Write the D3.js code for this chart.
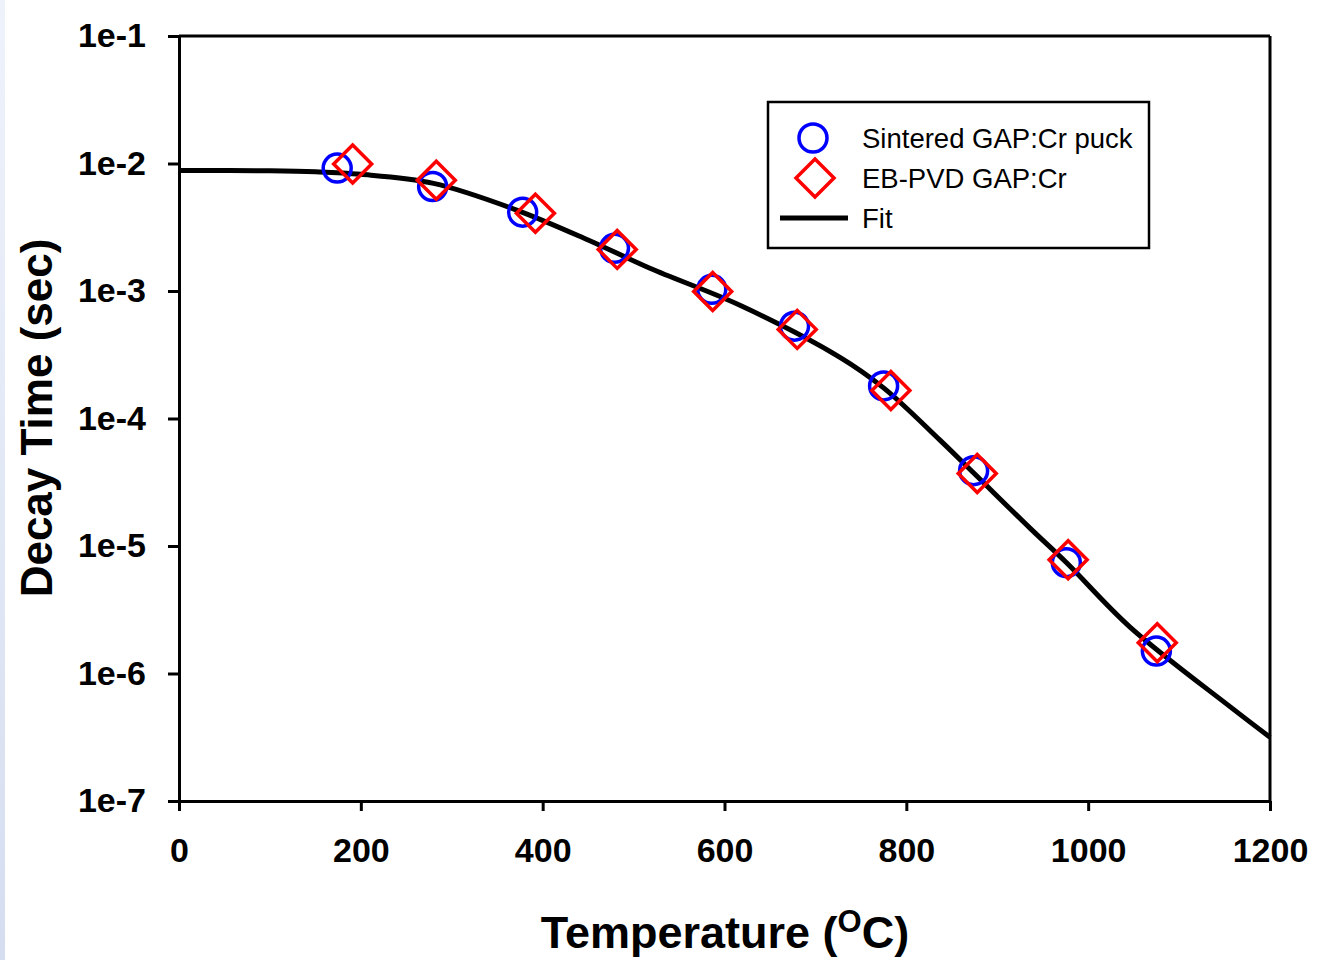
<!DOCTYPE html>
<html>
<head>
<meta charset="utf-8">
<title>Decay Time vs Temperature</title>
<script src="https://cdn.jsdelivr.net/npm/d3@7"></script>
<style>
body { margin: 0; background: #fff; }
svg { display: block; font-family: "Liberation Sans", Arial, sans-serif; }
.axis path, .axis line { stroke: #000; stroke-width: 3; }
.axis text { font-size: 34px; font-weight: bold; fill: #000; }
</style>
</head>
<body>
<script>
// data
var sinteredT = [174, 279, 378, 479, 586, 677, 775, 874, 976, 1075];
var sinteredTau = [9.2e-3, 6.6e-3, 4.15e-3, 2.16e-3, 1.03e-3, 5.3e-4, 1.8e-4, 3.9e-5, 7.4e-6, 1.5e-6];

var ebpvdT = [191, 283, 392, 482, 587, 680, 783, 878, 978, 1076];
var ebpvdTau = [9.9e-3, 7.4e-3, 4.07e-3, 2.12e-3, 9.9e-4, 5.0e-4, 1.66e-4, 3.7e-5, 7.8e-6, 1.74e-6];

var fitT = [0, 100, 150, 200, 280, 372, 450, 518, 617, 727, 775, 837, 873, 936, 976, 1046, 1156, 1200];
var fitLogTau = [-2.054, -2.057, -2.065, -2.085, -2.156, -2.367, -2.6, -2.822, -3.112, -3.52, -3.76, -4.17, -4.42, -4.86, -5.13, -5.636, -6.26, -6.5];

var xTicks = [0, 200, 400, 600, 800, 1000, 1200];
var yTicks = [1e-1, 1e-2, 1e-3, 1e-4, 1e-5, 1e-6, 1e-7];
var yTickLabels = ["1e-1", "1e-2", "1e-3", "1e-4", "1e-5", "1e-6", "1e-7"];

var W = 1340, H = 960;
var margin = {left: 179, right: 70, top: 36, bottom: 159};
var width = W - margin.left - margin.right,
    height = H - margin.top - margin.bottom;

var svg = d3.select("body").append("svg")
    .attr("width", W)
    .attr("height", H);

// light blue strip on the left edge
var grad = svg.append("defs").append("linearGradient")
    .attr("id", "strip").attr("x1", 0).attr("y1", 0).attr("x2", 0).attr("y2", 1);
grad.append("stop").attr("offset", "0%").attr("stop-color", "#eef2fb");
grad.append("stop").attr("offset", "100%").attr("stop-color", "#d5def0");
svg.append("rect").attr("x", 0).attr("y", 0).attr("width", 5).attr("height", H)
    .attr("fill", "url(#strip)");

var g = svg.append("g")
    .attr("transform", "translate(" + margin.left + "," + margin.top + ")");

var x = d3.scaleLinear().domain([0, 1200]).range([0, width]);
var y = d3.scaleLog().domain([1e-7, 1e-1]).range([height, 0]);

// frame
g.append("line").attr("x1", 0).attr("x2", width).attr("y1", 0).attr("y2", 0)
    .attr("stroke", "#000").attr("stroke-width", 3);
g.append("line").attr("x1", width).attr("x2", width).attr("y1", 0).attr("y2", height)
    .attr("stroke", "#000").attr("stroke-width", 3);

g.append("g")
    .attr("class", "axis")
    .attr("transform", "translate(0," + height + ")")
    .call(d3.axisBottom(x).tickValues(xTicks).tickSize(10).tickPadding(27).tickSizeOuter(0)
        .tickFormat(d3.format("d")))
    .selectAll("text").attr("dy", "0.71em");

g.append("g")
    .attr("class", "axis")
    .call(d3.axisLeft(y).tickValues(yTicks).tickSize(11).tickPadding(22).tickSizeOuter(0)
        .tickFormat(function(d, i) { return yTickLabels[i]; }));

// fit curve
var fit = fitT.map(function(t, i) { return {t: t, v: Math.pow(10, fitLogTau[i])}; });
g.append("path")
    .datum(fit)
    .attr("fill", "none")
    .attr("stroke", "#000")
    .attr("stroke-width", 5)
    .attr("d", d3.line()
        .curve(d3.curveCatmullRom)
        .x(function(d) { return x(d.t); })
        .y(function(d) { return y(d.v); }));

// sintered puck: blue circles
g.selectAll(".sint")
    .data(sinteredT.map(function(t, i) { return {t: t, v: sinteredTau[i]}; }))
  .enter().append("circle")
    .attr("class", "sint")
    .attr("cx", function(d) { return x(d.t); })
    .attr("cy", function(d) { return y(d.v); })
    .attr("r", 14)
    .attr("fill", "none")
    .attr("stroke", "#0000ff")
    .attr("stroke-width", 3.5);

// EB-PVD: red diamonds
var diamond = "M0,-19L19,0L0,19L-19,0Z";
g.selectAll(".eb")
    .data(ebpvdT.map(function(t, i) { return {t: t, v: ebpvdTau[i]}; }))
  .enter().append("path")
    .attr("class", "eb")
    .attr("d", diamond)
    .attr("transform", function(d) { return "translate(" + x(d.t) + "," + y(d.v) + ")"; })
    .attr("fill", "none")
    .attr("stroke", "#ff0000")
    .attr("stroke-width", 3.5);

// legend
var leg = svg.append("g").attr("transform", "translate(768,102)");
leg.append("rect").attr("width", 381).attr("height", 146)
    .attr("fill", "#fff").attr("stroke", "#000").attr("stroke-width", 2.5);
leg.append("circle").attr("cx", 45).attr("cy", 36).attr("r", 14)
    .attr("fill", "none").attr("stroke", "#0000ff").attr("stroke-width", 3.5);
leg.append("path").attr("d", diamond).attr("transform", "translate(47,76)")
    .attr("fill", "none").attr("stroke", "#ff0000").attr("stroke-width", 3.5);
leg.append("line").attr("x1", 12).attr("x2", 80).attr("y1", 116).attr("y2", 116)
    .attr("stroke", "#000").attr("stroke-width", 5);
var legText = ["Sintered GAP:Cr puck", "EB-PVD GAP:Cr", "Fit"];
leg.selectAll(".lt").data(legText).enter().append("text")
    .attr("x", 94)
    .attr("y", function(d, i) { return 46 + i * 40; })
    .attr("font-size", 27.5)
    .text(function(d) { return d; });

// axis titles
svg.append("text")
    .attr("transform", "translate(52,418) rotate(-90)")
    .attr("text-anchor", "middle")
    .attr("font-size", 44)
    .attr("font-weight", "bold")
    .text("Decay Time (sec)");

var xt = svg.append("text")
    .attr("x", 725).attr("y", 948)
    .attr("text-anchor", "middle")
    .attr("font-size", 45)
    .attr("font-weight", "bold");
xt.append("tspan").text("Temperature (");
xt.append("tspan").attr("font-size", 31).attr("dy", -16).text("O");
xt.append("tspan").attr("dy", 16).text("C)");
</script>
</body>
</html>
